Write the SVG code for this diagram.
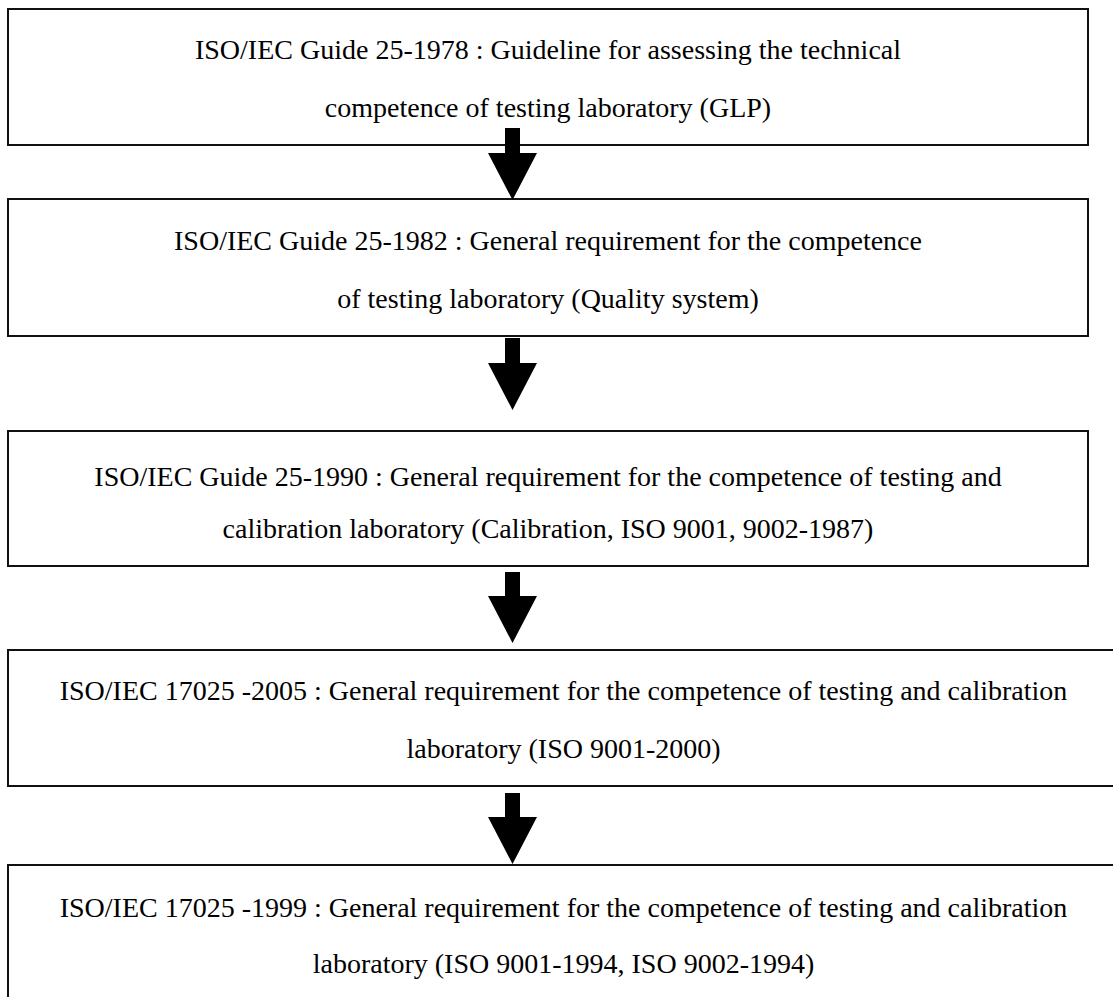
<svg xmlns="http://www.w3.org/2000/svg" width="1113" height="997" viewBox="0 0 1113 997">
<style>
  .box { fill: #ffffff; stroke: #111111; stroke-width: 2; }
  .lbl { font-family: 'Liberation Serif', 'Times New Roman', Times, 'Noto Serif', 'DejaVu Serif', serif; font-size: 28px; fill: #000000; text-anchor: middle; }
  .arrow { fill: #000000; stroke: none; }
</style>
<rect x="0" y="0" width="1113" height="997" fill="#ffffff"/>
<g id="node1">
  <rect class="box" x="8" y="9" width="1080" height="136"/>
  <text class="lbl" font-family="Liberation Serif, serif" x="548" y="59">ISO/IEC Guide 25-1978 : Guideline for assessing the technical</text>
  <text class="lbl" font-family="Liberation Serif, serif" x="548" y="117">competence of testing laboratory (GLP)</text>
</g>
<g id="node2">
  <rect class="box" x="8" y="199" width="1080" height="137"/>
  <text class="lbl" font-family="Liberation Serif, serif" x="548" y="250">ISO/IEC Guide 25-1982 : General requirement for the competence</text>
  <text class="lbl" font-family="Liberation Serif, serif" x="548" y="308">of testing laboratory (Quality system)</text>
</g>
<g id="node3">
  <rect class="box" x="8" y="431" width="1080" height="135"/>
  <text class="lbl" font-family="Liberation Serif, serif" x="548" y="486">ISO/IEC Guide 25-1990 : General requirement for the competence of testing and</text>
  <text class="lbl" font-family="Liberation Serif, serif" x="548" y="538">calibration laboratory (Calibration, ISO 9001, 9002-1987)</text>
</g>
<g id="node4">
  <rect class="box" x="8" y="650" width="1111" height="136"/>
  <text class="lbl" font-family="Liberation Serif, serif" x="563.5" y="700">ISO/IEC 17025 -2005 : General requirement for the competence of testing and calibration</text>
  <text class="lbl" font-family="Liberation Serif, serif" x="563.5" y="758">laboratory (ISO 9001-2000)</text>
</g>
<g id="node5">
  <rect class="box" x="8" y="865" width="1111" height="150"/>
  <text class="lbl" font-family="Liberation Serif, serif" x="563.5" y="917">ISO/IEC 17025 -1999 : General requirement for the competence of testing and calibration</text>
  <text class="lbl" font-family="Liberation Serif, serif" x="563.5" y="973">laboratory (ISO 9001-1994, ISO 9002-1994)</text>
</g>
<g id="connectors">
  <polygon class="arrow" points="505,128 520,128 520,153 537,153 512.5,200 488,153 505,153"/>
  <polygon class="arrow" points="505,338 520,338 520,363 537,363 512.5,410 488,363 505,363"/>
  <polygon class="arrow" points="505,572 520,572 520,596 537,596 512.5,643 488,596 505,596"/>
  <polygon class="arrow" points="505,793 520,793 520,817 537,817 512.5,864 488,817 505,817"/>
</g>
</svg>
